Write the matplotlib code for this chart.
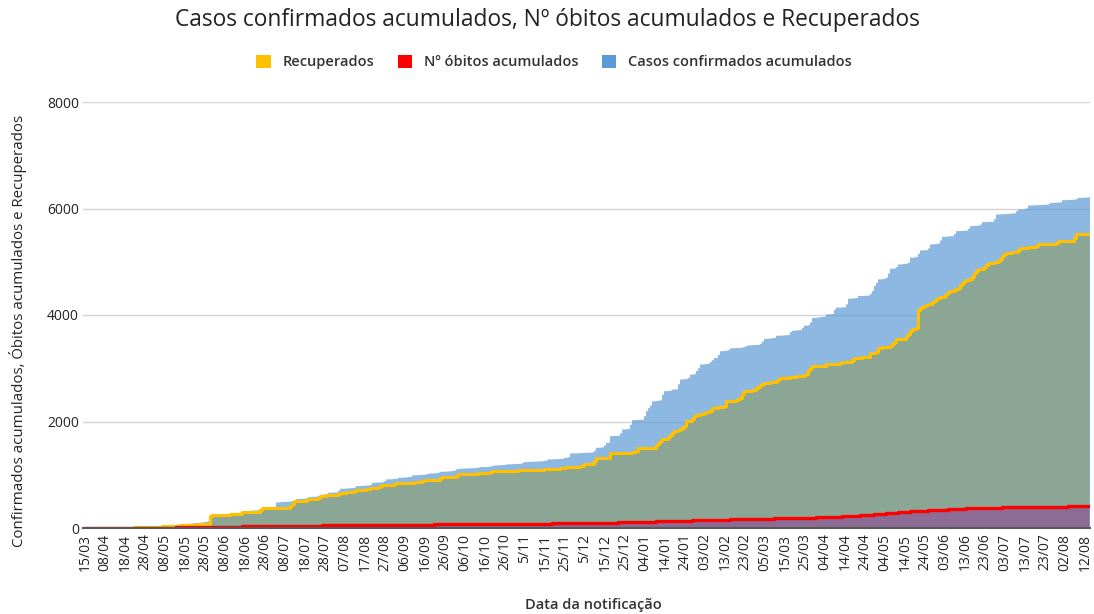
import matplotlib
matplotlib.use("Agg")
import matplotlib.pyplot as plt
from matplotlib.patches import Patch
import numpy as np
import pandas as pd

plt.rcParams['font.family'] = ['Open Sans', 'DejaVu Sans']

# ---------------- categories (notification dates) ----------------
early_dates = ["15/03", "17/03", "19/03", "21/03", "23/03", "25/03", "27/03", "30/03", "02/04", "05/04"]
daily = pd.date_range("2020-04-08", "2021-08-14", freq="D")
daily = daily[daily != pd.Timestamp("2020-06-01")]
special = {pd.Timestamp("2020-11-05"): "5/11", pd.Timestamp("2020-12-05"): "5/12"}
dates = early_dates + [special.get(d, d.strftime("%d/%m")) for d in daily]

# ---------------- series values ----------------
casos = [
    1, 1, 1, 2, 2, 2, 3, 3, 4, 4,
    5, 5, 6, 6, 7, 7, 8, 8, 9, 10,
    11, 12, 13, 14, 15, 16, 18, 20, 24, 28,
    30, 30, 31, 32, 33, 34, 36, 38, 40, 42,
    44, 46, 48, 50, 53, 56, 60, 62, 64, 66,
    70, 74, 78, 82, 86, 90, 94, 96, 100, 105,
    110, 118, 125, 125, 250, 250, 252, 252, 254, 256,
    258, 260, 262, 265, 269, 269, 270, 272, 275, 281,
    281, 283, 300, 325, 325, 328, 330, 340, 350, 363,
    363, 365, 368, 370, 372, 380, 481, 481, 485, 488,
    490, 492, 495, 500, 505, 520, 544, 544, 546, 548,
    550, 560, 581, 581, 583, 585, 590, 600, 625, 625,
    630, 640, 660, 663, 665, 668, 670, 700, 738, 738,
    740, 742, 745, 748, 750, 760, 788, 788, 790, 792,
    795, 798, 800, 810, 850, 850, 852, 855, 858, 860,
    880, 913, 913, 915, 918, 920, 925, 944, 944, 946,
    948, 950, 955, 960, 988, 988, 990, 992, 995, 998,
    1000, 1010, 1020, 1025, 1025, 1028, 1030, 1040, 1056, 1056,
    1058, 1060, 1062, 1065, 1070, 1080, 1100, 1113, 1113, 1115,
    1117, 1119, 1120, 1122, 1124, 1126, 1130, 1135, 1144, 1144,
    1146, 1148, 1150, 1155, 1165, 1175, 1175, 1177, 1179, 1181,
    1185, 1194, 1194, 1196, 1198, 1200, 1202, 1204, 1206, 1220,
    1238, 1238, 1240, 1242, 1244, 1246, 1248, 1250, 1252, 1255,
    1260, 1270, 1288, 1288, 1290, 1292, 1294, 1296, 1298, 1300,
    1319, 1319, 1330, 1400, 1400, 1400, 1402, 1404, 1406, 1408,
    1410, 1412, 1414, 1416, 1420, 1450, 1507, 1507, 1510, 1515,
    1550, 1600, 1600, 1725, 1725, 1728, 1730, 1732, 1780, 1850,
    1850, 1855, 1860, 1940, 2025, 2025, 2027, 2030, 2032, 2035,
    2100, 2195, 2250, 2300, 2380, 2380, 2385, 2390, 2400, 2500,
    2570, 2570, 2575, 2580, 2600, 2600, 2605, 2700, 2790, 2790,
    2795, 2800, 2820, 2880, 2880, 2890, 2950, 3000, 3070, 3070,
    3075, 3080, 3085, 3120, 3150, 3195, 3195, 3250, 3320, 3320,
    3325, 3330, 3340, 3375, 3375, 3378, 3380, 3382, 3385, 3390,
    3400, 3420, 3430, 3430, 3432, 3435, 3437, 3440, 3460, 3500,
    3550, 3550, 3555, 3560, 3565, 3570, 3610, 3610, 3612, 3615,
    3618, 3620, 3625, 3680, 3705, 3705, 3710, 3715, 3720, 3760,
    3800, 3800, 3810, 3860, 3945, 3945, 3950, 3955, 3960, 3965,
    3970, 4012, 4012, 4015, 4020, 4100, 4138, 4138, 4140, 4142,
    4145, 4200, 4307, 4307, 4310, 4315, 4320, 4356, 4356, 4358,
    4360, 4362, 4365, 4400, 4450, 4543, 4600, 4669, 4669, 4675,
    4680, 4700, 4780, 4869, 4869, 4875, 4900, 4950, 4950, 4955,
    4960, 4965, 4980, 5075, 5075, 5080, 5090, 5150, 5212, 5212,
    5215, 5220, 5250, 5325, 5325, 5330, 5335, 5340, 5400, 5469,
    5469, 5472, 5475, 5478, 5480, 5520, 5575, 5575, 5578, 5580,
    5582, 5585, 5620, 5669, 5669, 5672, 5675, 5678, 5700, 5744,
    5744, 5746, 5748, 5750, 5752, 5800, 5887, 5887, 5890, 5892,
    5895, 5898, 5900, 5903, 5906, 5910, 5950, 5981, 5981, 5985,
    5990, 6000, 6056, 6056, 6058, 6060, 6062, 6064, 6066, 6068,
    6070, 6072, 6080, 6106, 6106, 6108, 6110, 6112, 6114, 6156,
    6156, 6158, 6160, 6162, 6164, 6166, 6180, 6200, 6200, 6202,
    6205, 6207, 6210,
]

recuperados = [
    0, 0, 0, 0, 0, 0, 0, 0, 0, 0,
    0, 0, 0, 1, 1, 1, 2, 2, 2, 3,
    3, 4, 5, 6, 8, 10, 12, 14, 16, 18,
    20, 20, 21, 22, 23, 24, 25, 26, 28, 30,
    32, 34, 36, 38, 40, 42, 44, 46, 48, 50,
    52, 54, 56, 58, 60, 62, 64, 66, 68, 70,
    72, 75, 80, 219, 250, 250, 250, 250, 250, 250,
    250, 252, 252, 254, 254, 256, 256, 258, 260, 294,
    294, 294, 294, 294, 296, 296, 298, 300, 340, 375,
    375, 375, 375, 375, 376, 376, 378, 378, 380, 380,
    380, 382, 384, 420, 460, 500, 500, 502, 504, 506,
    508, 520, 544, 544, 546, 548, 550, 560, 594, 594,
    600, 613, 613, 613, 615, 618, 620, 640, 663, 663,
    665, 667, 669, 671, 673, 690, 713, 713, 715, 717,
    720, 725, 740, 756, 756, 758, 760, 762, 780, 800,
    800, 800, 802, 804, 806, 830, 850, 850, 850, 850,
    850, 852, 852, 854, 854, 856, 856, 858, 860, 880,
    900, 900, 900, 902, 904, 906, 908, 910, 930, 956,
    956, 956, 958, 960, 962, 964, 980, 1006, 1006, 1006,
    1008, 1008, 1010, 1010, 1012, 1014, 1016, 1038, 1038, 1038,
    1040, 1040, 1042, 1050, 1069, 1069, 1069, 1070, 1070, 1071,
    1072, 1072, 1073, 1074, 1075, 1076, 1078, 1088, 1088, 1088,
    1088, 1089, 1089, 1090, 1090, 1091, 1092, 1093, 1094, 1095,
    1100, 1113, 1113, 1113, 1114, 1115, 1116, 1117, 1118, 1120,
    1130, 1150, 1150, 1150, 1151, 1152, 1153, 1154, 1156, 1160,
    1207, 1207, 1208, 1209, 1210, 1250, 1312, 1312, 1313, 1314,
    1315, 1316, 1317, 1412, 1412, 1412, 1412, 1412, 1413, 1413,
    1414, 1414, 1415, 1416, 1418, 1420, 1450, 1500, 1500, 1500,
    1500, 1502, 1504, 1506, 1508, 1510, 1550, 1600, 1630, 1663,
    1663, 1680, 1700, 1740, 1780, 1820, 1820, 1840, 1860, 1880,
    1920, 2007, 2007, 2007, 2050, 2100, 2130, 2130, 2140, 2150,
    2160, 2170, 2180, 2200, 2257, 2257, 2260, 2265, 2270, 2275,
    2300, 2382, 2382, 2385, 2388, 2390, 2400, 2420, 2450, 2520,
    2570, 2570, 2575, 2580, 2590, 2600, 2620, 2650, 2680, 2700,
    2725, 2725, 2730, 2735, 2740, 2745, 2760, 2790, 2820, 2820,
    2822, 2824, 2826, 2828, 2830, 2840, 2863, 2863, 2863, 2863,
    2865, 2900, 2960, 3000, 3040, 3040, 3042, 3044, 3046, 3048,
    3050, 3075, 3075, 3076, 3077, 3078, 3079, 3080, 3100, 3119,
    3119, 3120, 3121, 3122, 3160, 3200, 3200, 3200, 3201, 3202,
    3203, 3204, 3205, 3294, 3294, 3294, 3300, 3388, 3388, 3390,
    3392, 3394, 3396, 3420, 3460, 3500, 3544, 3544, 3546, 3548,
    3550, 3600, 3650, 3700, 3731, 3740, 3760, 4100, 4138, 4150,
    4160, 4180, 4200, 4210, 4240, 4270, 4300, 4325, 4330, 4340,
    4360, 4400, 4430, 4450, 4460, 4470, 4480, 4500, 4560, 4600,
    4637, 4650, 4660, 4680, 4720, 4780, 4820, 4856, 4860, 4870,
    4900, 4940, 4981, 4981, 4985, 4990, 5000, 5020, 5060, 5100,
    5140, 5169, 5169, 5172, 5175, 5178, 5180, 5230, 5262, 5262,
    5264, 5266, 5268, 5270, 5272, 5275, 5300, 5325, 5325, 5327,
    5329, 5331, 5333, 5335, 5337, 5340, 5360, 5387, 5387, 5388,
    5389, 5390, 5391, 5392, 5394, 5450, 5512, 5512, 5513, 5514,
    5515, 5516, 5518,
]

obitos = [
    0, 0, 0, 0, 0, 0, 0, 0, 0, 0,
    0, 0, 0, 0, 0, 0, 0, 0, 1, 1,
    1, 1, 1, 1, 2, 2, 2, 2, 2, 3,
    3, 3, 3, 4, 4, 4, 5, 5, 5, 6,
    6, 7, 7, 8, 8, 9, 10, 10, 11, 12,
    12, 13, 14, 14, 15, 16, 16, 17, 18, 18,
    19, 20, 20, 21, 21, 22, 22, 23, 23, 24,
    24, 25, 25, 26, 26, 27, 27, 28, 28, 29,
    29, 30, 30, 31, 31, 32, 32, 33, 33, 34,
    34, 34, 35, 35, 36, 36, 37, 37, 38, 38,
    38, 39, 39, 40, 40, 41, 41, 42, 42, 42,
    43, 43, 44, 44, 45, 45, 45, 46, 46, 47,
    47, 47, 48, 48, 49, 49, 49, 50, 50, 50,
    51, 51, 51, 52, 52, 52, 53, 53, 53, 54,
    54, 54, 55, 55, 55, 56, 56, 56, 57, 57,
    57, 58, 58, 58, 59, 59, 59, 60, 60, 60,
    61, 61, 61, 62, 62, 62, 63, 63, 63, 64,
    64, 64, 65, 65, 65, 66, 66, 66, 67, 67,
    67, 68, 68, 68, 69, 69, 69, 70, 70, 70,
    71, 71, 71, 72, 72, 72, 73, 73, 73, 74,
    74, 74, 75, 75, 75, 76, 76, 76, 77, 77,
    77, 78, 78, 78, 79, 79, 79, 80, 80, 80,
    80, 81, 81, 81, 82, 82, 82, 82, 83, 83,
    83, 84, 84, 84, 85, 85, 85, 85, 86, 86,
    86, 86, 87, 87, 87, 87, 88, 88, 88, 88,
    89, 90, 90, 91, 92, 93, 93, 94, 95, 96,
    97, 98, 99, 100, 101, 102, 103, 104, 105, 106,
    107, 108, 109, 110, 111, 112, 113, 114, 115, 116,
    117, 118, 119, 120, 121, 122, 123, 124, 125, 126,
    127, 128, 129, 130, 131, 132, 133, 134, 135, 136,
    137, 138, 139, 140, 141, 142, 143, 144, 145, 146,
    147, 148, 149, 150, 151, 152, 153, 154, 155, 156,
    157, 158, 159, 160, 160, 161, 162, 163, 164, 165,
    166, 167, 168, 168, 169, 170, 171, 172, 173, 174,
    175, 176, 176, 177, 178, 179, 180, 181, 182, 183,
    184, 185, 185, 186, 187, 188, 189, 190, 191, 192,
    193, 193, 194, 195, 196, 197, 198, 198, 199, 199,
    200, 201, 202, 204, 206, 208, 210, 212, 214, 216,
    218, 220, 222, 224, 226, 228, 230, 232, 235, 238,
    241, 244, 247, 250, 253, 256, 259, 262, 265, 268,
    271, 274, 277, 280, 283, 286, 289, 292, 295, 298,
    301, 304, 307, 310, 313, 315, 317, 319, 321, 323,
    325, 327, 329, 331, 333, 335, 337, 339, 341, 343,
    345, 347, 349, 351, 353, 355, 357, 359, 361, 363,
    365, 367, 368, 369, 370, 371, 372, 373, 374, 375,
    376, 377, 378, 379, 380, 381, 382, 383, 384, 385,
    386, 387, 388, 389, 390, 390, 391, 391, 392, 392,
    393, 393, 394, 394, 395, 395, 396, 396, 397, 397,
    398, 398, 399, 399, 400, 400, 401, 401, 402, 402,
    403, 403, 404, 404, 405, 405, 406, 406, 407, 407,
    408, 408, 409,
]

y_ticks = [0, 2000, 4000, 6000, 8000]

title = "Casos confirmados acumulados, Nº óbitos acumulados e Recuperados"
ylabel = "Confirmados acumulados, Óbitos acumulados e Recuperados"
xlabel = "Data da notificação"

# ---------------- drawing ----------------
n = min(len(dates), len(casos), len(recuperados), len(obitos))
dates = dates[:n]
casos = np.array(casos[:n])
recuperados = np.array(recuperados[:n])
obitos = np.array(obitos[:n])
x = np.arange(n)

C_BLUE = "#5B9BD5"
C_GOLD = "#FFC000"
C_RED = "#FF0000"

W, H = 1094, 614
fig = plt.figure(figsize=(W / 100, H / 100), dpi=100)
# axes sized so that each category occupies exactly 2 pixels (avoids moire)
ax_left_px, ax_bottom_px = 83, H - 528
ax_w_px, ax_h_px = 2 * (n + 0.5), 426
ax = fig.add_axes([ax_left_px / W, ax_bottom_px / H, ax_w_px / W, ax_h_px / H])

ax.fill_between(x, recuperados, step="mid", color=C_GOLD, linewidth=0, zorder=1)
ax.fill_between(x, obitos, step="mid", color=C_RED, linewidth=0, zorder=2)
ax.bar(x, casos, width=0.7, color=C_BLUE, linewidth=0, zorder=3, snap=False)
ax.step(x, recuperados, where="mid", color=C_GOLD, linewidth=2.2, zorder=4)
ax.step(x, obitos, where="mid", color=C_RED, linewidth=2.4, zorder=5)

ax.set_xlim(-1.0, n - 0.5)
ax.set_ylim(0, 8000)
ax.set_yticks(y_ticks)
ax.set_yticklabels([str(v) for v in y_ticks], fontsize=10, color="#222222")
ax.yaxis.grid(True, color="#d4d4d4", linewidth=1.0, zorder=0)
ax.set_axisbelow(True)

tick_pos = list(range(0, n, 10))
ax.set_xticks(tick_pos)
ax.set_xticklabels([dates[i] for i in tick_pos], rotation=90, fontsize=10, color="#222222")
ax.tick_params(axis="y", length=0, pad=3)
ax.tick_params(axis="x", length=0, pad=4)

for s in ["top", "right", "left"]:
    ax.spines[s].set_visible(False)
ax.spines["bottom"].set_color("#595959")
ax.spines["bottom"].set_linewidth(1.5)
ax.spines["bottom"].set_zorder(6)

fig.text(0.5, 1 - 20 / H, title, ha="center", va="center", fontsize=16.4, color="#222222")
fig.text(18 / W, 1 - 331 / H, ylabel, rotation=90, ha="center", va="center",
         fontsize=10.8, color="#222222")
fig.text(593 / W, 1 - 605 / H, xlabel, ha="center", va="center", fontsize=10.5,
         fontweight="semibold", color="#333333")

handles = [Patch(facecolor=C_GOLD, edgecolor="none", label="Recuperados"),
           Patch(facecolor=C_RED, edgecolor="none", label="Nº óbitos acumulados"),
           Patch(facecolor=C_BLUE, edgecolor="none", label="Casos confirmados acumulados")]
leg = fig.legend(handles=handles, loc="center", bbox_to_anchor=(554 / W, 1 - 62 / H), ncol=3,
                 frameon=False, handlelength=1.0, handleheight=1.0, handletextpad=0.8,
                 columnspacing=1.6, prop={"size": 10.5, "weight": "semibold"})
for t in leg.get_texts():
    t.set_color("#333333")

fig.savefig("out.png", dpi=100)
